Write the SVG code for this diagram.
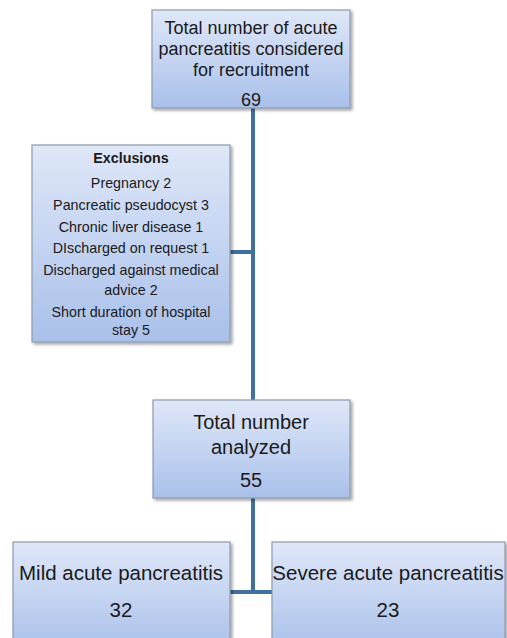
<svg xmlns="http://www.w3.org/2000/svg" width="507" height="638" viewBox="0 0 507 638">
<defs>
<linearGradient id="g" x1="0" y1="0" x2="0" y2="1">
<stop offset="0" stop-color="#dfe7f8"/>
<stop offset="1" stop-color="#a9c0ea"/>
</linearGradient>
<filter id="sh" x="-10%" y="-10%" width="130%" height="130%">
<feDropShadow dx="2" dy="2" stdDeviation="1.5" flood-color="#000" flood-opacity="0.35"/>
</filter>
</defs>
<style>
.box{fill:url(#g);stroke:#8d99ab;stroke-width:1.2;filter:url(#sh)}
.t{font-family:"Liberation Sans",Arial,sans-serif;fill:#1a1a1a;text-anchor:middle}
.big{font-size:18px}
.mid{font-size:20px}
.bot{font-size:20.5px}
.sm{font-size:14.3px}
.conn{stroke:#41709f;stroke-width:4;fill:none}
</style>
<rect width="507" height="638" fill="#fff"/>
<g id="connectors">
<path class="conn" d="M253,108 V400"/>
<path class="conn" d="M230,252 H253"/>
<path class="conn" d="M253,498 V592 M230,592 H273"/>
</g>
<g id="n1">
<rect class="box" x="152" y="10" width="198" height="98"/>
<text class="t big" x="251" y="34">Total number of acute</text>
<text class="t big" x="251" y="55">pancreatitis considered</text>
<text class="t big" x="251" y="76">for recruitment</text>
<text class="t big" x="251" y="106">69</text>
</g>
<g id="exclusions">
<rect class="box" x="32" y="145" width="198" height="197"/>
<text class="t sm" x="131" y="163" font-weight="bold" font-size="13.8">Exclusions</text>
<text class="t sm" x="131" y="188">Pregnancy 2</text>
<text class="t sm" x="131" y="210">Pancreatic pseudocyst 3</text>
<text class="t sm" x="131" y="232">Chronic liver disease 1</text>
<text class="t sm" x="131" y="253">DIscharged on request 1</text>
<text class="t sm" x="131" y="275">Discharged  against medical</text>
<text class="t sm" x="131" y="295">advice 2</text>
<text class="t sm" x="131" y="317">Short duration of hospital</text>
<text class="t sm" x="131" y="335">stay 5</text>
</g>
<g id="n2">
<rect class="box" x="153" y="400" width="197" height="98"/>
<text class="t mid" x="251" y="429">Total number</text>
<text class="t mid" x="251" y="454">analyzed</text>
<text class="t mid" x="251" y="487">55</text>
</g>
<g id="mild">
<rect class="box" x="13" y="542" width="217" height="110"/>
<text class="t bot" x="121" y="580">Mild acute pancreatitis</text>
<text class="t bot" x="121" y="617">32</text>
</g>
<g id="severe">
<rect class="box" x="272" y="542" width="233" height="110"/>
<text class="t bot" x="388" y="580">Severe acute pancreatitis</text>
<text class="t bot" x="388" y="617">23</text>
</g>
</svg>
